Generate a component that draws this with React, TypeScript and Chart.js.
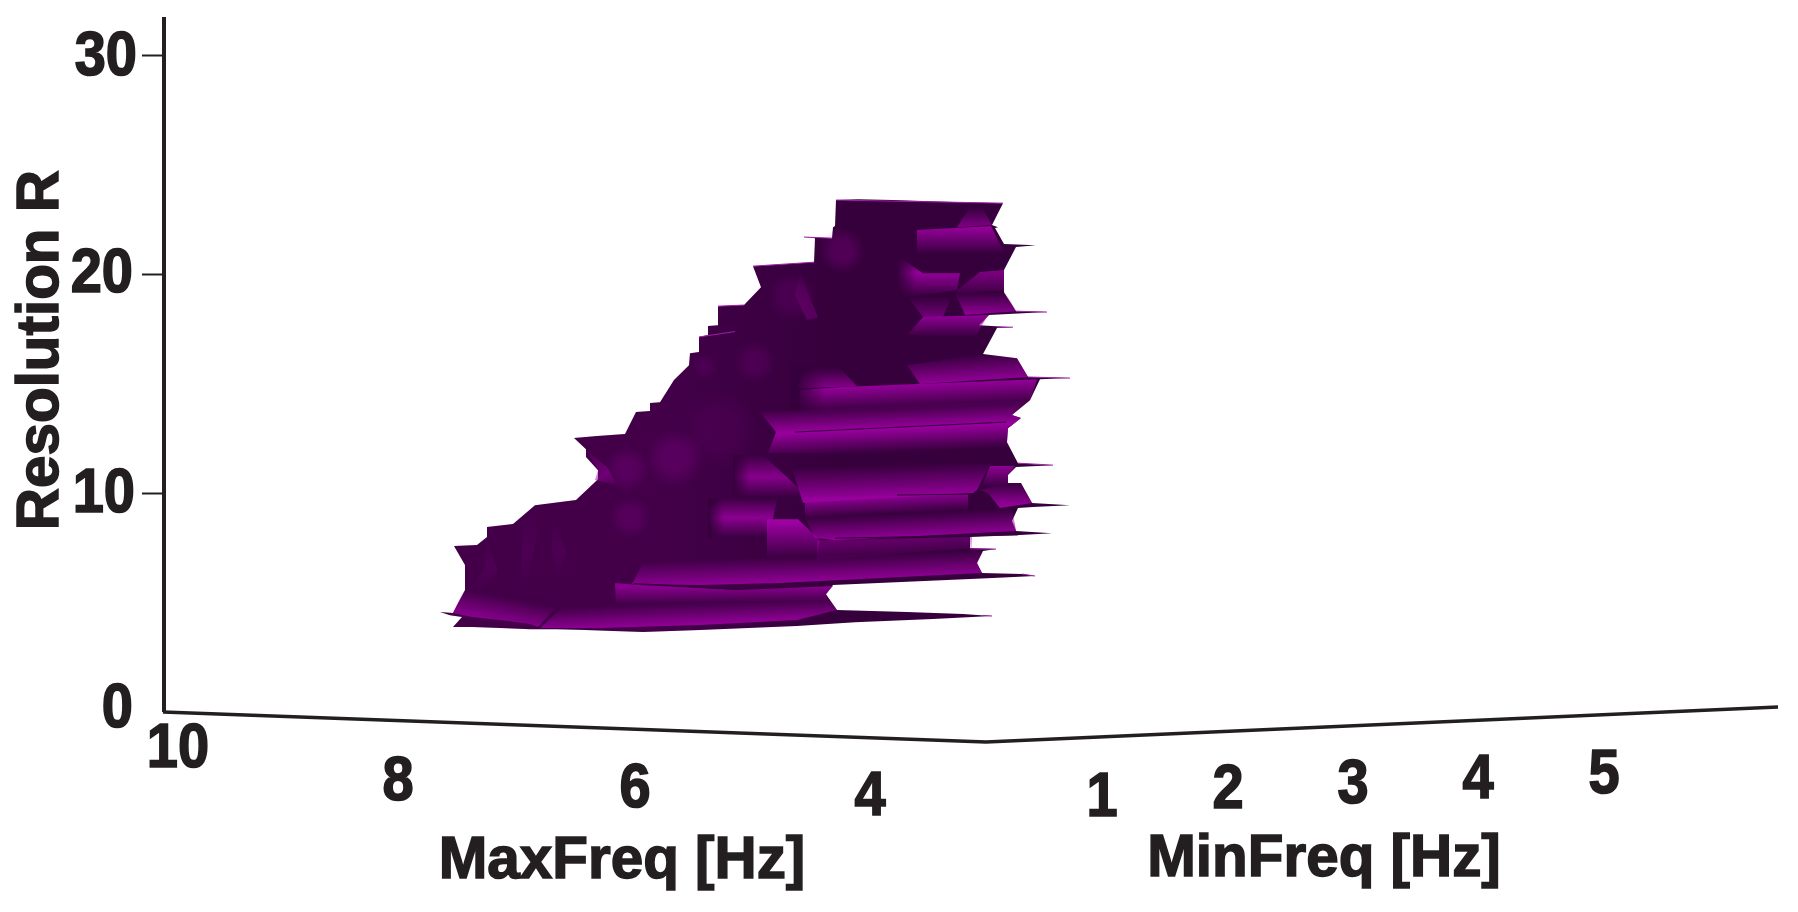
import React, { useEffect, useRef } from "react";
import { Chart, registerables } from "chart.js";

Chart.register(...registerables);

type P = [number, number];

// Surface: first value = horizontal view position, second = Resolution R.
const rTicks = [0, 10, 20, 30];
const rTickLabelAnchors: P[] = [[1.33, 0.1], [1.35, 9.95], [1.33, 20], [1.37, 29.9]];
const maxFreqTicks: [string, number, number][] = [["10", 1.78, -1.74], ["8", 3.98, -3.25], ["6", 6.35, -3.57], ["4", 8.7, -3.93]];
const minFreqTicks: [string, number, number][] = [["1", 11.02, -3.98], ["2", 12.28, -3.62], ["3", 13.53, -3.35], ["4", 14.78, -3.15], ["5", 16.04, -2.9]];
const axisTitles: [string, number, number, number][] = [
  ["MaxFreq [Hz]", 6.22, -6.86, 0],
  ["MinFreq [Hz]", 13.24, -6.77, 0],
  ["Resolution R", 0.415, 16.55, -90],
];

const rAxisLine: P[] = [[1.64, 31.78], [1.64, 0]];
const floorLine: P[] = [[1.63, 0], [9.86, -1.37], [17.78, 0.23]];

const silhouette: P[] = [
  [8.36, 23.41], [8.58, 23.45], [8.93, 23.41], [9.53, 23.32], [10.03, 23.27], [9.92, 22.27], [9.98, 22.17], [9.95, 22.13],
  [10.04, 21.4], [10.36, 21.35], [10.16, 21.26], [10.04, 20.21], [10.04, 19.2], [10.16, 18.33], [10.47, 18.29], [10.23, 18.24],
  [9.89, 18.15], [9.79, 17.69], [10.13, 17.6], [9.97, 17.56], [9.83, 16.37], [10.17, 16.18], [10.28, 15.32], [10.7, 15.27],
  [10.4, 15.22], [10.3, 14.26], [10.12, 13.58], [10.21, 13.44], [10.08, 12.98], [10.07, 12.34], [10.18, 11.38], [10.53, 11.29],
  [10.16, 11.2], [10.08, 10.84], [10.08, 10.47], [10.21, 10.47], [10.32, 9.56], [10.7, 9.46], [10.33, 9.37], [10.18, 9.33],
  [10.12, 8.73], [10.16, 8.28], [10.52, 8.18], [10.2, 8.09], [9.7, 8.0], [9.7, 7.5], [9.96, 7.45], [9.83, 7.36],
  [9.77, 6.81], [9.82, 6.36], [10.22, 6.31], [10.35, 6.22], [9.93, 6.13], [8.33, 5.81], [8.26, 5.39], [8.37, 4.66],
  [9.07, 4.57], [9.63, 4.48], [9.92, 4.39], [9.33, 4.25], [8.55, 4.11], [7.97, 3.93], [7.0, 3.75], [6.43, 3.66],
  [6.13, 3.7], [5.85, 3.75], [5.57, 3.79], [5.3, 3.79], [5.0, 3.84], [4.72, 3.89], [4.53, 3.89], [4.62, 4.34],
  [4.5, 4.43], [4.4, 4.57], [4.53, 4.53], [4.65, 5.58], [4.65, 6.72], [4.54, 7.59], [4.77, 7.64], [4.87, 8.0],
  [4.87, 8.46], [5.13, 8.6], [5.35, 9.46], [5.76, 9.69], [5.98, 10.65], [5.98, 11.06], [5.86, 11.66], [5.86, 12.02],
  [5.74, 12.53], [5.97, 12.62], [6.25, 12.71], [6.36, 13.72], [6.5, 13.76], [6.5, 14.13], [6.6, 14.17], [6.74, 15.18],
  [6.89, 15.86], [6.9, 16.41], [6.99, 16.46], [6.99, 17.15], [7.08, 17.24], [7.08, 17.65], [7.18, 17.69], [7.18, 18.56],
  [7.44, 18.61], [7.61, 19.43], [7.53, 20.39], [8.14, 20.57], [8.15, 21.67], [8.04, 21.72], [8.32, 21.67], [8.33, 22.17],
  [8.35, 22.22],
];

const hazeLowerLeft: P[] = [[6.6, 14.72], [7.8, 14.72], [7.8, 11.06], [6.6, 11.06]];
const lumpA: P[] = [[6.3, 13.0], [7.2, 13.0], [7.2, 10.2], [6.3, 10.2]];
const lumpB: P[] = [[5.86, 11.98], [6.07, 11.2], [6.17, 10.38], [5.95, 10.61], [5.98, 11.06]];
const lumpC: P[] = [[5.9, 9.9], [6.7, 9.9], [6.7, 7.9], [5.9, 7.9]];
const lumpD: P[] = [[5.98, 12.2], [6.55, 12.2], [6.55, 10.0], [5.98, 10.0]];
const streakA: P[] = [[4.87, 7.86], [4.98, 6.4], [4.77, 5.44], [4.7, 5.58], [4.85, 6.63]];
const streakB: P[] = [[5.23, 8.46], [5.35, 9.37], [5.37, 8.18], [5.27, 5.9], [5.2, 5.58]];
const streakC: P[] = [[5.53, 8.78], [5.67, 7.27], [5.57, 6.17], [5.52, 7.27]];
const chevronTop: P[] = [[8.05, 20.0], [8.2, 22.3], [8.8, 22.3], [8.8, 20.0]];
const streakTop: P[] = [[8.0, 20.07], [8.18, 18.06], [8.07, 17.92], [7.95, 19.07]];
const lumpTop: P[] = [[7.6, 20.2], [8.25, 20.2], [8.25, 17.8], [7.6, 17.8]];
const lumpMid: P[] = [[7.15, 17.0], [8.0, 17.0], [8.0, 15.0], [7.15, 15.0]];
const lumpEdge: P[] = [[6.99, 16.46], [7.25, 16.46], [7.25, 15.18], [6.85, 15.18]];

const cornerTriangle: P[] = [[9.57, 22.17], [9.7, 23.09], [9.82, 23.09], [9.92, 22.27]];
const bandTop: P[] = [[9.17, 22.04], [9.91, 22.22], [10.03, 21.12], [10.03, 20.57], [9.17, 20.94]];
const blobUpper: P[] = [[8.97, 20.89], [9.23, 20.07], [9.6, 20.07], [9.57, 19.29], [9.06, 18.97], [8.97, 19.61]];
const parallelogram: P[] = [[9.57, 19.29], [9.8, 20.12], [10.04, 20.21], [10.04, 19.29], [9.57, 19.16]];
const wedgeRight: P[] = [[9.55, 19.2], [10.04, 19.29], [10.16, 18.33], [9.65, 18.15]];
const wedgeLeft: P[] = [[9.08, 18.97], [9.53, 19.16], [9.43, 18.06], [9.23, 18.06]];
const shelf: P[] = [[9.23, 18.06], [9.88, 18.15], [9.75, 17.15], [9.07, 17.24]];
const riseUpper: P[] = [[9.07, 15.86], [9.83, 16.37], [10.17, 16.18], [10.28, 15.32], [9.2, 15.0]];
const blobRidge: P[] = [[7.98, 14.95], [8.05, 15.54], [8.18, 15.73], [8.4, 15.73], [8.57, 14.9], [8.0, 14.81]];
const ridgeUpper: P[] = [[8.0, 14.72], [8.42, 14.86], [10.37, 15.22], [10.3, 14.26], [10.12, 13.62], [8.0, 13.72]];
const leftFade: P[] = [[7.9, 15.86], [8.25, 15.86], [8.25, 13.72], [7.9, 13.72]];
const ridgeMiddle: P[] = [[7.6, 13.72], [10.28, 14.26], [10.12, 13.58], [10.21, 13.44], [10.08, 12.98], [10.07, 12.34], [10.16, 11.75], [7.68, 11.84], [7.76, 12.8]];
const riseLower: P[] = [[7.9, 11.43], [9.9, 11.34], [9.77, 10.15], [9.73, 10.01], [8.03, 9.56]];
const fallLower: P[] = [[8.05, 9.78], [9.68, 9.97], [9.68, 9.24], [8.05, 8.92]];
const blobMid: P[] = [[7.33, 10.97], [7.4, 11.75], [7.63, 11.75], [7.88, 10.7], [8.03, 10.01], [8.03, 9.83], [7.33, 9.92]];
const blobMidFade: P[] = [[7.33, 11.75], [7.5, 11.75], [7.5, 9.83], [7.33, 9.83]];
const blobLow: P[] = [[7.08, 9.24], [7.23, 9.78], [7.77, 9.69], [7.73, 8.87], [7.65, 8.0], [7.12, 8.0]];
const blobLowFade: P[] = [[7.08, 9.78], [7.24, 9.78], [7.24, 8.0], [7.08, 8.0]];
const blobUpperFade: P[] = [[8.97, 20.89], [9.17, 20.89], [9.17, 18.97], [8.97, 18.97]];
const riseBase: P[] = [[8.05, 8.92], [10.12, 9.33], [10.16, 8.28], [8.35, 7.86], [8.15, 7.96]];
const block: P[] = [[7.67, 8.82], [7.98, 8.82], [8.2, 7.86], [8.17, 7.04], [7.67, 7.04]];
const blockTail: P[] = [[8.17, 7.86], [9.72, 8.0], [9.72, 7.5], [8.17, 6.95]];
const riseFloor: P[] = [[6.32, 5.85], [6.43, 6.81], [9.7, 7.5], [9.83, 7.36], [9.77, 6.81], [9.82, 6.36], [7.8, 5.9], [7.0, 5.81]];
const fallFloor: P[] = [[6.15, 5.9], [6.4, 5.81], [7.4, 5.58], [8.33, 5.76], [8.26, 5.39], [8.28, 5.12], [6.16, 4.98]];
const frontBand: P[] = [[5.4, 3.84], [5.63, 4.8], [8.26, 5.35], [8.37, 4.66], [7.97, 4.21], [7.0, 3.98], [6.0, 3.84]];
const fan: P[] = [[4.53, 4.53], [4.63, 5.49], [5.6, 4.98], [5.38, 3.89], [5.3, 4.02], [5.0, 4.21], [4.72, 4.34]];
const insetTop: P[] = [[9.9, 11.25], [10.15, 11.25], [10.08, 10.84], [10.08, 10.47], [9.8, 10.15]];
const insetLow: P[] = [[9.8, 10.15], [10.08, 10.47], [10.21, 10.47], [10.32, 9.56], [10.0, 9.33], [9.88, 10.01]];

const darkHairlines: [P, P][] = [
  [[7.95, 12.8], [10.06, 13.26]],
  [[8.97, 9.92], [9.77, 9.97]],
  [[8.35, 7.95], [10.18, 8.1]],
  [[6.34, 5.88], [7.4, 5.6]],
];
const brightHairlines: [P, P][] = [
  [[7.53, 20.39], [8.14, 20.57]],
  [[7.18, 18.56], [7.44, 18.61]],
  [[6.99, 17.15], [7.35, 17.4]],
  [[8.04, 21.72], [8.32, 21.67]],
  [[10.16, 18.33], [10.47, 18.29]],
  [[10.28, 15.32], [10.7, 15.27]],
  [[10.18, 11.38], [10.53, 11.29]],
  [[9.97, 17.6], [10.13, 17.6]],
  [[9.7, 7.46], [9.96, 7.45]],
  [[9.83, 4.42], [9.92, 4.39]],
  [[10.22, 6.31], [10.35, 6.22]],
  [[8.36, 23.41], [10.03, 23.27]],
];

const INK = "#231f20";
const BASE = "rgb(54,0,60)";
const BRIGHT = "153,0,158";
const VIVID = "163,0,168";
const DARK = "54,0,60";

type Layer = { pts: P[]; from: P; to: P; stops: P[]; tone: string; radial?: boolean };
const layers: Layer[] = [
  { pts: silhouette, from: [6.6, 12], to: [8.4, 12], stops: [[0, 0.13], [1, 0]], tone: BRIGHT },
  { pts: hazeLowerLeft, from: [7.2, 12.9], to: [7.2, 11.1], stops: [[0, 0.1], [0.5, 0.09], [1, 0]], tone: BRIGHT, radial: true },
  { pts: lumpA, from: [6.75, 11.6], to: [6.75, 10.25], stops: [[0, 0.28], [0.45, 0.24], [1, 0]], tone: BRIGHT, radial: true },
  { pts: lumpD, from: [6.27, 11.1], to: [6.27, 10.05], stops: [[0, 0.25], [0.45, 0.22], [1, 0]], tone: BRIGHT, radial: true },
  { pts: lumpB, from: [5.9, 12.21], to: [6.15, 10.38], stops: [[0, 0.05], [0.7, 0.5], [1, 0.1]], tone: BRIGHT },
  { pts: lumpC, from: [6.3, 8.9], to: [6.3, 7.95], stops: [[0, 0.22], [0.45, 0.2], [1, 0]], tone: BRIGHT, radial: true },
  { pts: streakA, from: [4.8, 7.86], to: [4.8, 5.44], stops: [[0, 0], [0.5, 0.14], [1, 0]], tone: BRIGHT },
  { pts: streakB, from: [5.3, 9.37], to: [5.3, 5.58], stops: [[0, 0], [0.5, 0.12], [1, 0]], tone: BRIGHT },
  { pts: streakC, from: [5.6, 8.78], to: [5.6, 6.17], stops: [[0, 0], [0.5, 0.12], [1, 0]], tone: BRIGHT },
  { pts: chevronTop, from: [8.42, 21.1], to: [8.42, 20.05], stops: [[0, 0.28], [0.45, 0.25], [1, 0]], tone: BRIGHT, radial: true },
  { pts: streakTop, from: [8.0, 20.07], to: [8.0, 18.0], stops: [[0, 0.05], [1, 0.35]], tone: BRIGHT },
  { pts: lumpTop, from: [7.92, 19.0], to: [7.92, 17.85], stops: [[0, 0.18], [0.45, 0.16], [1, 0]], tone: BRIGHT, radial: true },
  { pts: lumpMid, from: [7.55, 16.0], to: [7.55, 15.05], stops: [[0, 0.18], [0.45, 0.16], [1, 0]], tone: BRIGHT, radial: true },
  { pts: lumpEdge, from: [7.05, 15.8], to: [7.05, 15.2], stops: [[0, 0.14], [0.45, 0.12], [1, 0]], tone: BRIGHT, radial: true },
  { pts: cornerTriangle, from: [9.7, 23.09], to: [9.7, 22.04], stops: [[0, 0], [1, 0.85]], tone: BRIGHT },
  { pts: bandTop, from: [9.5, 22.13], to: [9.5, 20.94], stops: [[0, 0.95], [1, 0]], tone: BRIGHT },
  { pts: blobUpper, from: [9.2, 20.89], to: [9.2, 18.97], stops: [[0, 0], [0.42, 0.95], [1, 0]], tone: BRIGHT },
  { pts: blobUpperFade, from: [8.97, 20], to: [9.17, 20], stops: [[0, 1], [1, 0]], tone: DARK },
  { pts: parallelogram, from: [9.8, 20.21], to: [9.8, 19.07], stops: [[0, 0.75], [1, 0.05]], tone: BRIGHT },
  { pts: wedgeRight, from: [9.8, 19.2], to: [9.8, 18.24], stops: [[0, 0], [1, 0.85]], tone: BRIGHT },
  { pts: wedgeLeft, from: [9.3, 18.97], to: [9.3, 18.06], stops: [[0, 0], [1, 0.6]], tone: BRIGHT },
  { pts: shelf, from: [9.5, 18.11], to: [9.5, 17.15], stops: [[0, 0.9], [1, 0.02]], tone: BRIGHT },
  { pts: riseUpper, from: [9.6, 16.32], to: [9.615, 15.13], stops: [[0, 0], [1, 0.9]], tone: BRIGHT },
  { pts: blobRidge, from: [8.2, 15.73], to: [8.2, 14.9], stops: [[0, 0], [1, 0.75]], tone: BRIGHT },
  { pts: ridgeUpper, from: [9.4, 15.04], to: [9.41, 13.9], stops: [[0, 0.95], [1, 0]], tone: BRIGHT },
  { pts: leftFade, from: [7.95, 15], to: [8.25, 15], stops: [[0, 1], [1, 0]], tone: DARK },
  { pts: ridgeMiddle, from: [9.0, 14.08], to: [9.02, 11.89], stops: [[0, 0], [0.5, 1], [1, 0]], tone: BRIGHT },
  { pts: riseLower, from: [8.8, 11.29], to: [8.81, 9.83], stops: [[0, 0], [1, 0.95]], tone: BRIGHT },
  { pts: fallLower, from: [8.8, 9.92], to: [8.81, 9.01], stops: [[0, 0.95], [1, 0]], tone: BRIGHT },
  { pts: blobMid, from: [7.5, 11.75], to: [7.5, 9.83], stops: [[0, 0], [0.52, 0.8], [1, 0]], tone: BRIGHT },
  { pts: blobMidFade, from: [7.33, 11], to: [7.5, 11], stops: [[0, 1], [1, 0]], tone: DARK },
  { pts: blobLow, from: [7.4, 9.78], to: [7.4, 8.0], stops: [[0, 0], [0.5, 0.85], [1, 0]], tone: BRIGHT },
  { pts: blobLowFade, from: [7.08, 9], to: [7.24, 9], stops: [[0, 1], [1, 0]], tone: DARK },
  { pts: riseBase, from: [9.0, 9.1], to: [9.01, 8.0], stops: [[0, 0], [1, 0.9]], tone: BRIGHT },
  { pts: blockTail, from: [8.9, 7.86], to: [8.91, 6.95], stops: [[0, 0.45], [1, 0]], tone: BRIGHT },
  { pts: block, from: [7.8, 8.78], to: [7.8, 7.04], stops: [[0, 1], [1, 0]], tone: VIVID },
  { pts: riseFloor, from: [8.0, 7.13], to: [8.01, 5.9], stops: [[0, 0], [1, 0.95]], tone: BRIGHT },
  { pts: fallFloor, from: [7.2, 5.72], to: [7.2, 4.94], stops: [[0, 0.8], [1, 0]], tone: BRIGHT },
  { pts: frontBand, from: [6.8, 4.98], to: [6.81, 3.93], stops: [[0, 0], [1, 0.95]], tone: BRIGHT },
  { pts: fan, from: [5.0, 5.3], to: [4.95, 4.11], stops: [[0, 0], [1, 0.85]], tone: BRIGHT },
  { pts: insetTop, from: [10.0, 11.25], to: [10.0, 10.24], stops: [[0, 0.9], [1, 0]], tone: BRIGHT },
  { pts: insetLow, from: [10.0, 10.38], to: [10.0, 9.46], stops: [[0, 0.1], [1, 0.95]], tone: BRIGHT },
];

const toPoints = (pts: P[]) => pts.map(([x, y]) => ({ x, y }));
const segmentsToPoints = (segs: [P, P][]) =>
  segs.flatMap(([a, b]) => [{ x: a[0], y: a[1] }, { x: b[0], y: b[1] }, { x: NaN, y: NaN }]);

const textPlugin = {
  id: "axisText",
  afterDraw(chart: any) {
    const { ctx, scales } = chart;
    const put = (text: string, x: number, r: number, size: number, rot = 0, tall = 1, align = "center") => {
      ctx.save();
      ctx.translate(scales.x.getPixelForValue(x), scales.y.getPixelForValue(r));
      ctx.rotate((rot * Math.PI) / 180);
      ctx.scale(1, tall);
      ctx.font = `bold ${size}px "Liberation Sans", Arial, sans-serif`;
      ctx.fillStyle = INK;
      ctx.strokeStyle = INK;
      ctx.lineWidth = 1.5;
      ctx.textAlign = align;
      ctx.textBaseline = "middle";
      ctx.strokeText(text, 0, 0);
      ctx.fillText(text, 0, 0);
      ctx.restore();
    };
    rTicks.forEach((v, i) => put(String(v), rTickLabelAnchors[i][0], rTickLabelAnchors[i][1], 56, 0, 1.12, "right"));
    [...maxFreqTicks, ...minFreqTicks].forEach(([t, x, r]) => put(t, x, r, 56, 0, 1.12));
    axisTitles.forEach(([t, x, r, rot]) => put(t, x, r, 58.4, rot));
  },
};

export default function App() {
  const ref = useRef<HTMLCanvasElement>(null);
  useEffect(() => {
    if (!ref.current) return;
    const n = layers.length + 6;
    const polygon = (pts: P[], order: number, backgroundColor: any) => ({
      data: toPoints(pts),
      showLine: true,
      fill: "shape",
      borderWidth: 0,
      borderDash: [1, 1],
      pointRadius: 0,
      tension: 0,
      backgroundColor,
      order,
    });
    const stroke = (data: any[], order: number, borderColor: string, borderWidth: number) => ({
      data,
      showLine: true,
      fill: false,
      borderColor,
      borderWidth,
      pointRadius: 0,
      tension: 0,
      spanGaps: false,
      clip: false,
      order,
    });
    const layerData = layers.map((l, i) =>
      polygon(l.pts, n - 1 - i, (c: any) => {
        const s = c.chart.scales;
        if (!s.x || !s.y) return "transparent";
        const [x0, y0, x1, y1] = [
          s.x.getPixelForValue(l.from[0]),
          s.y.getPixelForValue(l.from[1]),
          s.x.getPixelForValue(l.to[0]),
          s.y.getPixelForValue(l.to[1]),
        ];
        if (![x0, y0, x1, y1].every(Number.isFinite)) return "transparent";
        const g = l.radial
          ? c.chart.ctx.createRadialGradient(x0, y0, 0, x0, y0, Math.hypot(x1 - x0, y1 - y0))
          : c.chart.ctx.createLinearGradient(x0, y0, x1, y1);
        l.stops.forEach(([o, a]) => g.addColorStop(o, `rgba(${l.tone},${a})`));
        return g;
      })
    );
    const chart = new Chart(ref.current, {
      type: "scatter",
      data: {
        datasets: [
          polygon(silhouette, n, BASE),
          ...layerData,
          stroke(segmentsToPoints(darkHairlines), 3, "rgb(54,0,60)", 1),
          stroke(segmentsToPoints(brightHairlines), 2, "rgb(160,30,165)", 1),
          stroke(toPoints(rAxisLine), 1, INK, 4),
          stroke(toPoints(floorLine), 0, INK, 3.5),
        ] as any,
      },
      plugins: [textPlugin],
      options: {
        animation: false,
        responsive: false,
        devicePixelRatio: 1,
        events: [],
        layout: { padding: 0 },
        plugins: { legend: { display: false }, tooltip: { enabled: false } },
        scales: {
          x: { type: "linear", display: false, min: 1.64, max: 17.98 },
          y: {
            type: "linear",
            position: "left",
            min: -9.145,
            max: 32.56,
            border: { display: false },
            grid: {
              drawOnChartArea: false,
              drawTicks: true,
              tickLength: 22,
              tickWidth: 2,
              tickColor: (c: any) => (c.tick && c.tick.value === 0 ? "transparent" : INK),
            },
            afterBuildTicks: (s: any) => {
              s.ticks = rTicks.map((value) => ({ value }));
            },
            afterFit: (s: any) => {
              s.width = 164;
              s.paddingTop = 0;
              s.paddingBottom = 0;
            },
            ticks: { display: false, autoSkip: false },
          },
        },
      } as any,
    });
    return () => chart.destroy();
  }, []);
  return (
    <div style={{ position: "absolute", left: 0, top: 0, width: 1798, height: 912, background: "#fff" }}>
      <canvas ref={ref} width={1798} height={912} style={{ display: "block" }} />
    </div>
  );
}
